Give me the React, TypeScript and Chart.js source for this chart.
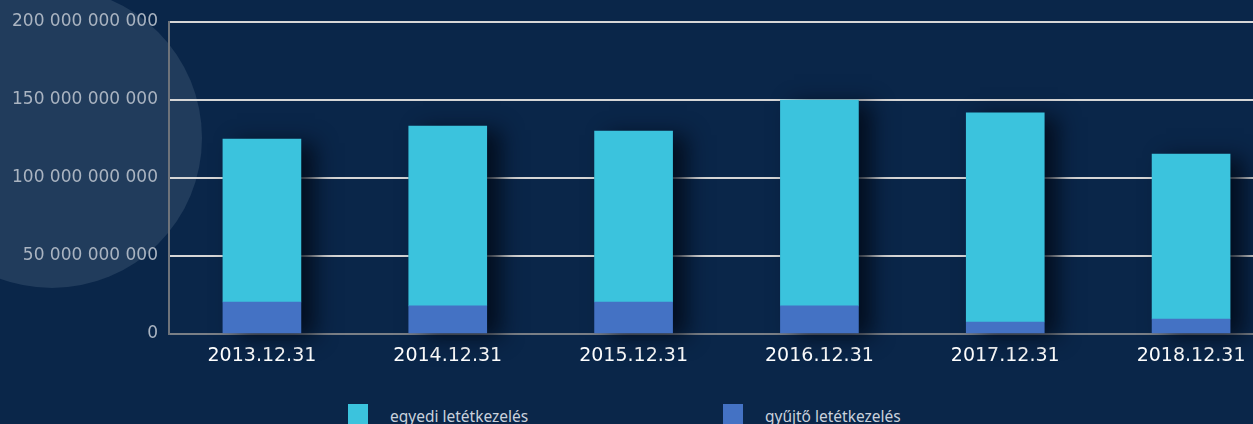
import React, { useEffect, useRef } from "react";
import { Chart, registerables } from "chart.js";

Chart.register(...registerables);

const categories = ["2013.12.31", "2014.12.31", "2015.12.31", "2016.12.31", "2017.12.31", "2018.12.31"];
const egyediValues = [104500000000, 115300000000, 109600000000, 132000000000, 134000000000, 105800000000];
const gyujtoValues = [20500000000, 18000000000, 20500000000, 18000000000, 7700000000, 9600000000];
const yTicks = [0, 50000000000, 100000000000, 150000000000, 200000000000];
const legendLabels = ["egyedi letétkezelés", "gyűjtő letétkezelés"];

const BG = "#0a2649";
const CYAN = "#3bc3dd";
const BLUE = "#4472c4";

const fmt = (v: number) => String(v).replace(/\B(?=(\d{3})+(?!\d))/g, " ");

const shadowPlugin = {
  id: "barShadow",
  beforeDatasetsDraw(chart: any) {
    const ctx = chart.ctx;
    const m0 = chart.getDatasetMeta(0);
    const m1 = chart.getDatasetMeta(1);
    ctx.save();
    ctx.shadowColor = "rgba(2,10,25,0.85)";
    ctx.shadowBlur = 20;
    ctx.shadowOffsetX = 14;
    ctx.shadowOffsetY = 4;
    ctx.fillStyle = BG;
    m0.data.forEach((el: any, i: number) => {
      const top = m1.data[i] ? Math.min(m1.data[i].y, el.y) : el.y;
      const bottom = el.base;
      ctx.fillRect(el.x - el.width / 2, top, el.width, bottom - top);
    });
    ctx.restore();
  },
};

export default function App() {
  const ref = useRef<HTMLCanvasElement | null>(null);
  useEffect(() => {
    if (!ref.current) return;
    const chart = new Chart(ref.current, {
      type: "bar",
      data: {
        labels: categories,
        datasets: [
          { label: legendLabels[1], data: gyujtoValues, backgroundColor: BLUE, barThickness: 78 },
          { label: legendLabels[0], data: egyediValues, backgroundColor: CYAN, barThickness: 78 },
        ],
      },
      options: {
        animation: false,
        responsive: false,
        maintainAspectRatio: false,
        layout: { padding: { top: 22, right: 16, left: 0, bottom: 0 } },
        plugins: { legend: { display: false }, tooltip: { enabled: false } },
        scales: {
          x: {
            stacked: true,
            grid: { display: false, drawTicks: false },
            border: { display: true, color: "#7a7f86", width: 2 },
            ticks: { color: "#ffffff", font: { family: "DejaVu Sans", size: 19 }, padding: 11 },
            afterFit: (s: any) => { s.height = 50; },
          },
          y: {
            stacked: true,
            min: 0,
            max: 200000000000,
            afterBuildTicks: (s: any) => { s.ticks = yTicks.map((v) => ({ value: v })); },
            grid: {
              drawTicks: false,
              color: (c: any) => (c.tick && c.tick.value === 0 ? "rgba(0,0,0,0)" : "#d6d6d6"),
              lineWidth: 2,
            },
            border: { display: true, color: "#6e737a", width: 2 },
            ticks: {
              color: "#aab4c1",
              font: { family: "DejaVu Sans", size: 17 },
              padding: 11,
              callback: (v: any) => fmt(Number(v)),
            },
            afterFit: (s: any) => { s.width = 169; },
          },
        },
      },
      plugins: [shadowPlugin],
    } as any);
    return () => chart.destroy();
  }, []);

  return (
    <div style={{ position: "fixed", left: 0, top: 0, width: 1253, height: 424, overflow: "hidden", background: BG }}>
      <div style={{ position: "absolute", left: -98, top: -12, width: 300, height: 300, borderRadius: "50%", background: "#213c5c" }} />
      <div style={{ position: "absolute", left: 0, top: 0, width: 1300, height: 384 }}>
        <canvas ref={ref} width={1300} height={384} style={{ width: 1300, height: 384 }} />
      </div>
      {[{ x: 348, c: CYAN, t: legendLabels[0] }, { x: 723, c: BLUE, t: legendLabels[1] }].map((l) => (
        <div key={l.t} style={{ position: "absolute", left: l.x, top: 404, display: "flex", alignItems: "flex-start" }}>
          <div style={{ width: 20, height: 20, background: l.c }} />
          <div style={{ marginLeft: 22, marginTop: 4, fontFamily: "Noto Sans", fontSize: 15.5, color: "#c9d1dc", lineHeight: "17px", whiteSpace: "nowrap" }}>{l.t}</div>
        </div>
      ))}
    </div>
  );
}
